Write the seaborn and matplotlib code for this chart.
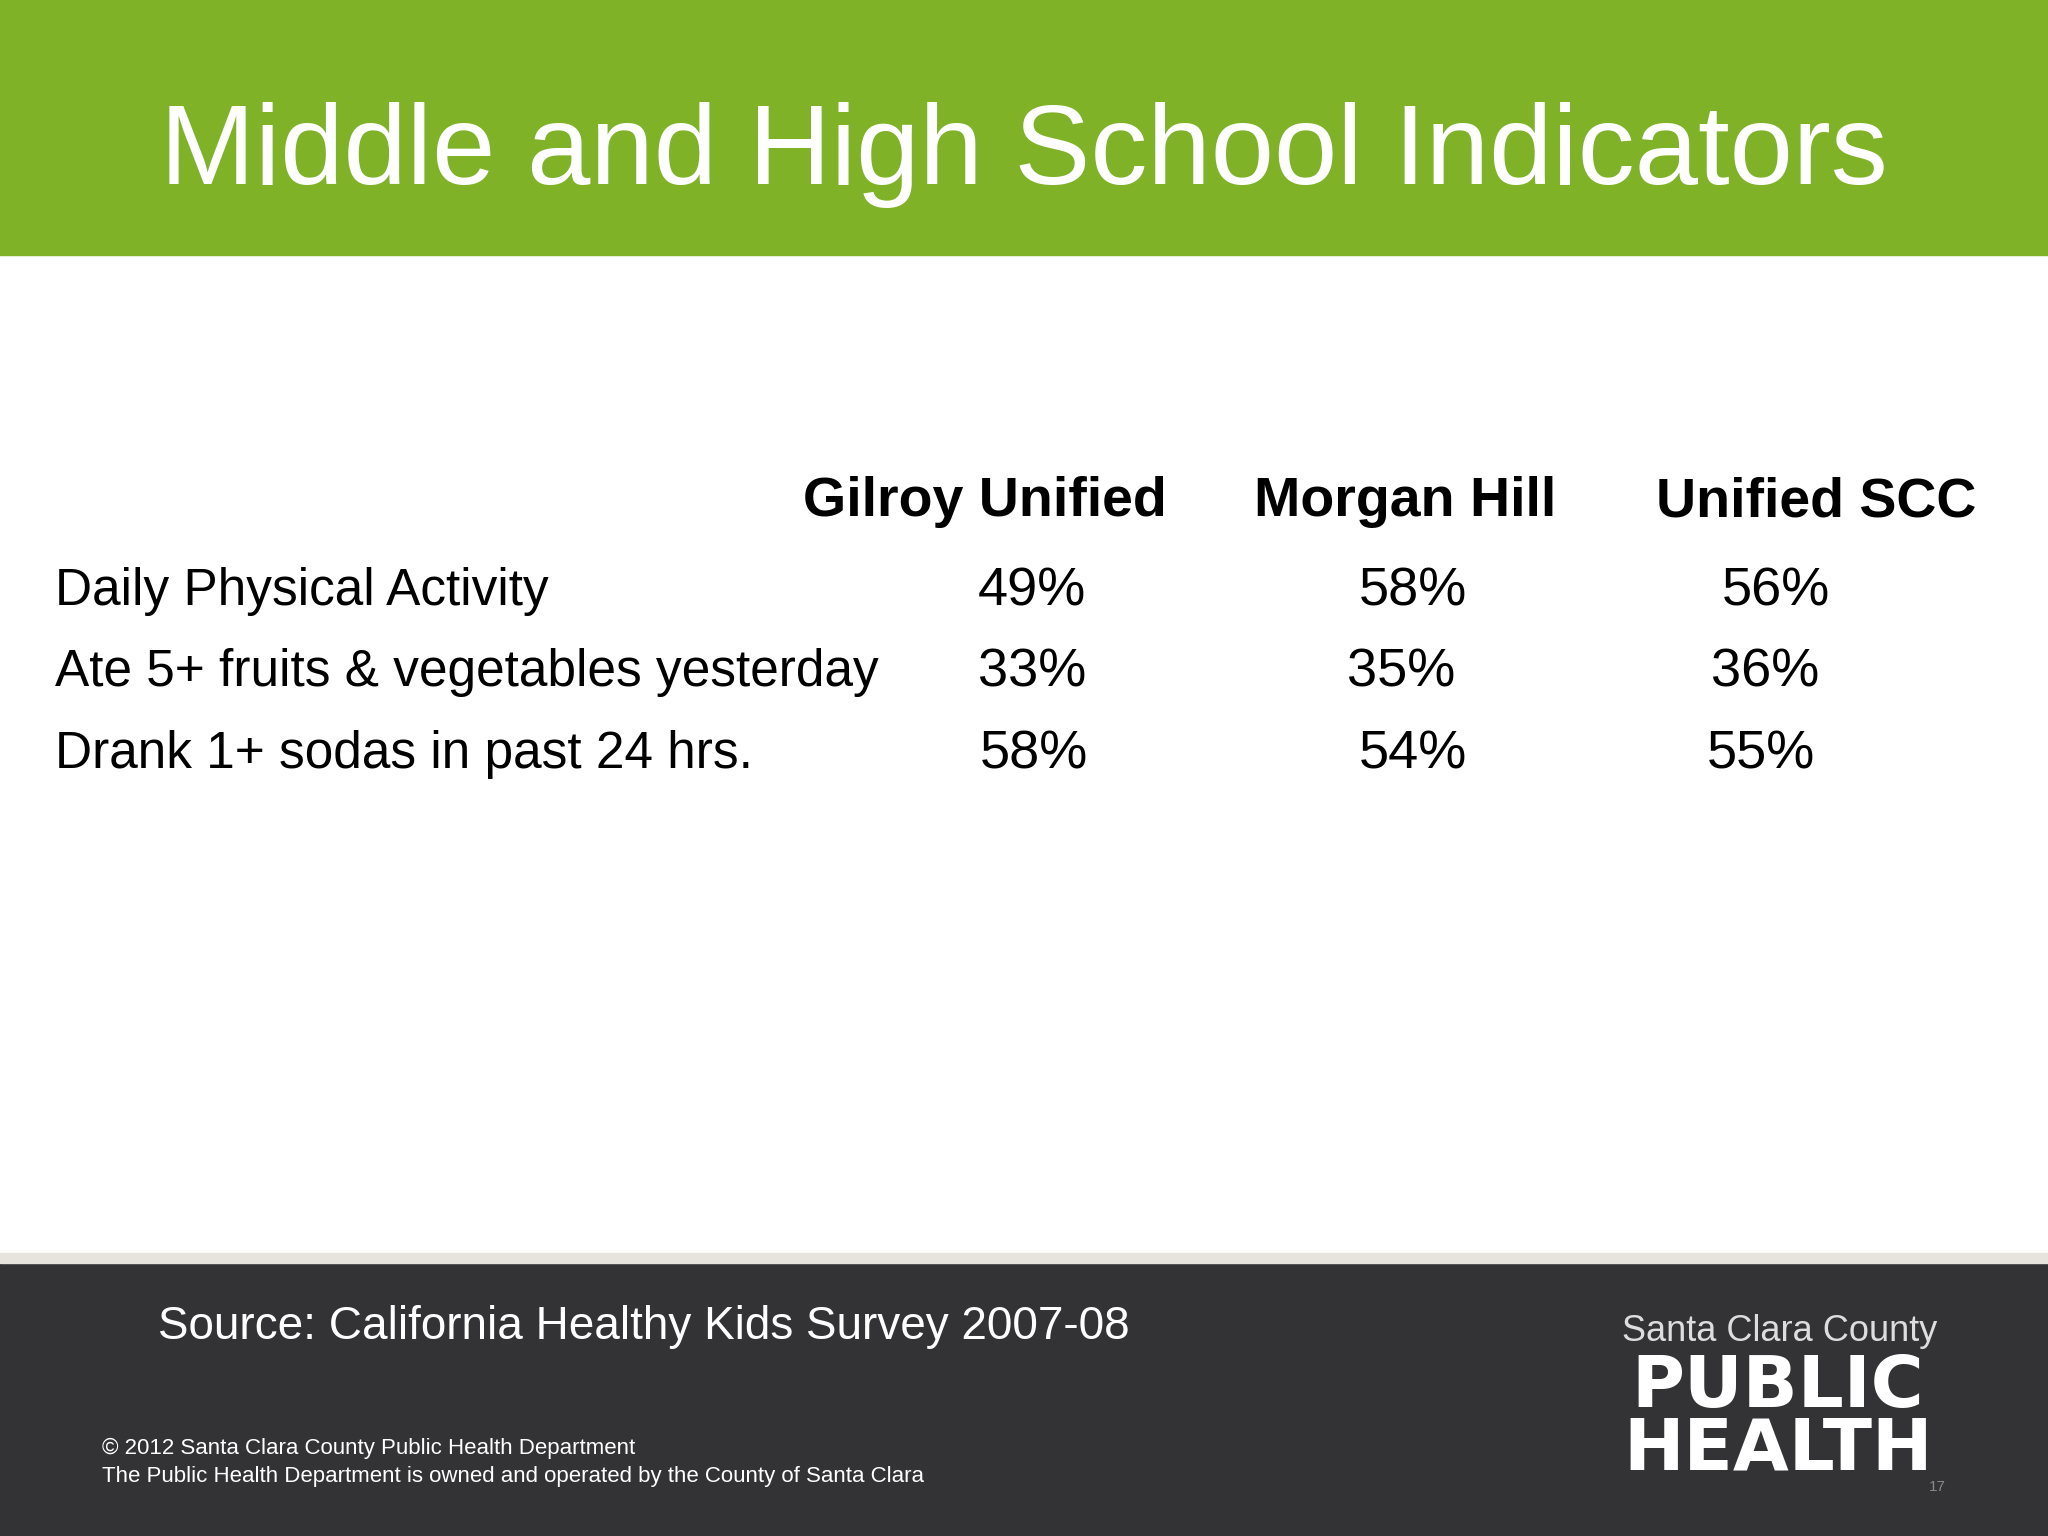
import matplotlib
matplotlib.use("Agg")
import matplotlib.pyplot as plt
import seaborn as sns
from matplotlib.patches import Rectangle

sns.set_theme(style="white")
plt.rcParams['font.family'] = ['Liberation Sans', 'DejaVu Sans']

title = "Middle and High School Indicators"
columns = ["Gilroy Unified", "Morgan Hill", "Unified SCC"]
indicators = ["Daily Physical Activity", "Ate 5+ fruits & vegetables yesterday", "Drank 1+ sodas in past 24 hrs."]
gilroy = [49, 33, 58]
morgan = [58, 35, 54]
scc = [56, 36, 55]
source = "Source: California Healthy Kids Survey 2007-08"
copyright_lines = ["\u00a9 2012 Santa Clara County Public Health Department",
                   "The Public Health Department is owned and operated by the County of Santa Clara"]

fig = plt.figure(figsize=(20.48, 15.36), dpi=100)
fig.patch.set_facecolor("white")
ax = fig.add_axes([0, 0, 1, 1]); ax.set_axis_off()
ax.set_xlim(0, 1); ax.set_ylim(0, 1)

ax.add_patch(Rectangle((0, 0.834), 1, 0.166, color="#7FB227"))
ax.add_patch(Rectangle((0, 0.0), 1, 0.178, color="#333335"))
ax.add_patch(Rectangle((0, 0.178), 1, 0.006, color="#E6E4DC"))

ax.text(0.5, 0.899, title, ha="center", va="center", fontsize=82, color="white")

col_x = [0.481, 0.686, 0.887]
for x, c in zip(col_x, columns):
    ax.text(x, 0.673, c, ha="center", va="center", fontsize=40, fontweight="bold", color="black")

row_y = [0.615, 0.562, 0.509]
val_x = [[0.504, 0.504, 0.505], [0.690, 0.684, 0.690], [0.867, 0.862, 0.860]]
series = [gilroy, morgan, scc]
for i, (lab, y) in enumerate(zip(indicators, row_y)):
    ax.text(0.027, y, lab, ha="left", va="center", fontsize=37, color="black")
    for j, s in enumerate(series):
        ax.text(val_x[j][i], y, f"{s[i]}%", ha="center", va="center", fontsize=39, color="black")

ax.text(0.077, 0.136, source, ha="left", va="center", fontsize=33, color="white")
ax.text(0.05, 0.057, copyright_lines[0], ha="left", va="center", fontsize=16, color="white")
ax.text(0.05, 0.039, copyright_lines[1], ha="left", va="center", fontsize=16, color="white")

ax.text(0.869, 0.133, "Santa Clara County", ha="center", va="center", fontsize=26, color="#DDDDDD")
ax.text(0.868, 0.097, "PUBLIC", ha="center", va="center", fontsize=52, fontweight="black",
        family="DejaVu Sans", color="white")
ax.text(0.868, 0.056, "HEALTH", ha="center", va="center", fontsize=52, fontweight="black",
        family="DejaVu Sans", color="white")
ax.text(0.946, 0.032, "17", ha="center", va="center", fontsize=11, color="#888888")

fig.savefig("out.png", dpi=100)
